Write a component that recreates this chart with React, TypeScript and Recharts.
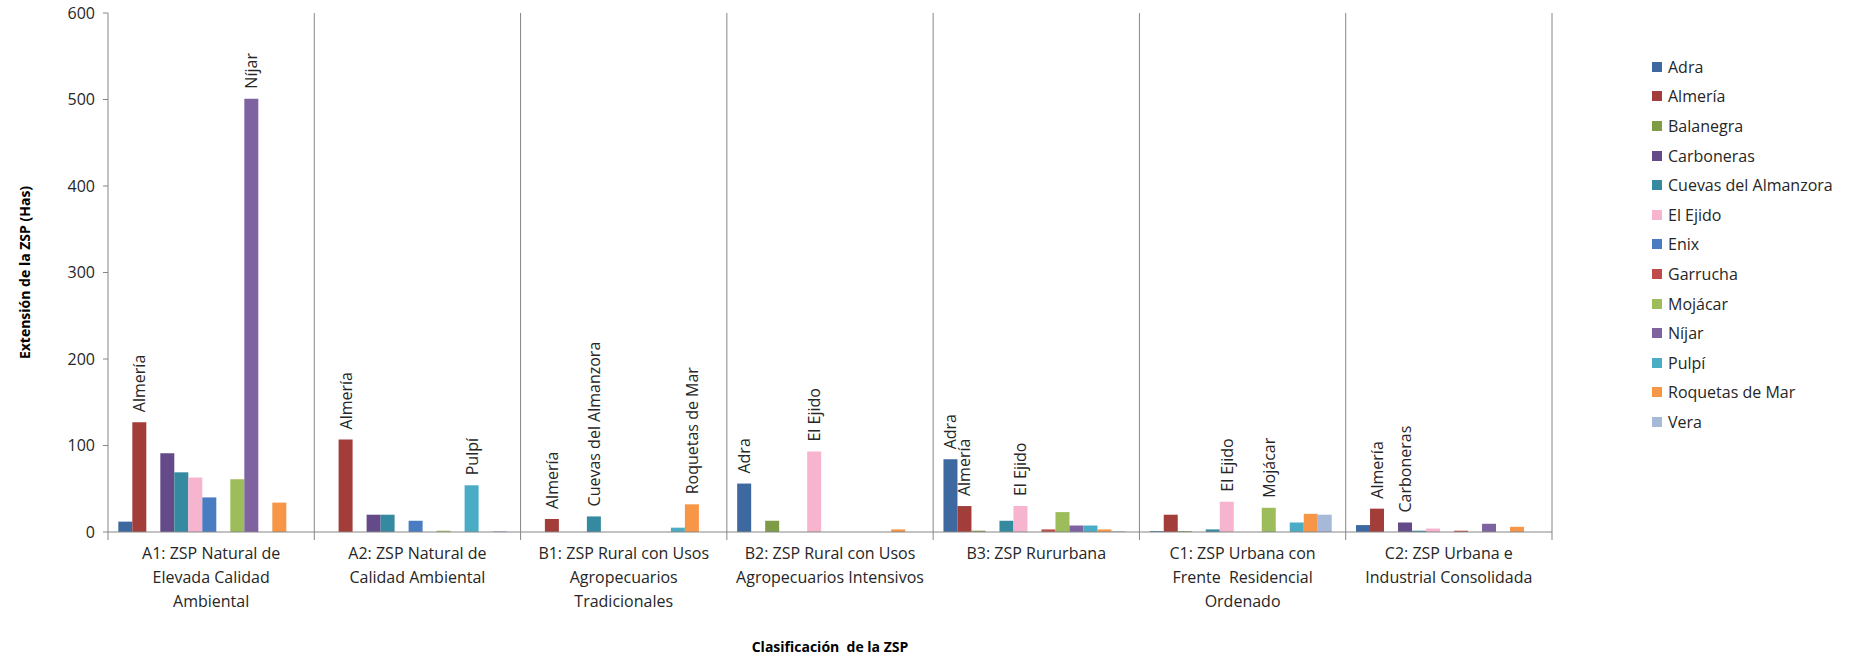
import React from 'react';
import { BarChart, Bar, XAxis, YAxis, CartesianGrid, Legend, LabelList } from 'recharts';

// ---------- data ----------
const categories = ['A1', 'A2', 'B1', 'B2', 'B3', 'C1', 'C2'];
const categoryLabels = [
  ['A1: ZSP Natural de', 'Elevada Calidad', 'Ambiental'],
  ['A2: ZSP Natural de', 'Calidad Ambiental'],
  ['B1: ZSP Rural con Usos', 'Agropecuarios', 'Tradicionales'],
  ['B2: ZSP Rural con Usos', 'Agropecuarios Intensivos'],
  ['B3: ZSP Rururbana'],
  ['C1: ZSP Urbana con', 'Frente  Residencial', 'Ordenado'],
  ['C2: ZSP Urbana e', 'Industrial Consolidada'],
];

const seriesNames = [
  'Adra', 'Almería', 'Balanegra', 'Carboneras', 'Cuevas del Almanzora', 'El Ejido',
  'Enix', 'Garrucha', 'Mojácar', 'Níjar', 'Pulpí', 'Roquetas de Mar', 'Vera',
];
const seriesColors = [
  '#3D68A0', '#A23D3A', '#7E9B45', '#654A8A', '#368A9F', '#F7B4CE',
  '#4A7CC1', '#BF4C4A', '#9DBD5A', '#7F63A1', '#4BACC6', '#F79646', '#A7B9D9',
];

// values per category A1, A2, B1, B2, B3, C1, C2
const adra = [12, 0, 0, 56, 84, 1, 8];
const almeria = [127, 107, 15, 0, 30, 20, 27];
const balanegra = [0, 0, 0, 13, 1.5, 1, 0];
const carboneras = [91, 20, 0, 0, 0, 0, 11];
const cuevas = [69, 20, 18, 0, 13, 3, 1.5];
const elEjido = [63, 0, 0, 93, 30, 35, 4];
const enix = [40, 13, 0, 0, 0, 0, 0];
const garrucha = [0, 0, 0, 0, 3, 0, 1.5];
const mojacar = [61, 1.5, 0, 0, 23, 28, 0];
const nijar = [501, 0, 0, 0, 7.5, 0, 9.5];
const pulpi = [0, 54, 5, 0, 7.5, 11, 0];
const roquetas = [34, 0, 32, 3, 3, 21, 6];
const vera = [0, 1, 0, 0, 1, 20, 0];

const seriesValues = [
  adra, almeria, balanegra, carboneras, cuevas, elEjido,
  enix, garrucha, mojacar, nijar, pulpi, roquetas, vera,
];

// bars that carry a rotated data label (category, series)
const labeledBars: [string, string][] = [
  ['A1', 'Almería'], ['A1', 'Níjar'],
  ['A2', 'Almería'], ['A2', 'Pulpí'],
  ['B1', 'Almería'], ['B1', 'Cuevas del Almanzora'], ['B1', 'Roquetas de Mar'],
  ['B2', 'Adra'], ['B2', 'El Ejido'],
  ['B3', 'Adra'], ['B3', 'Almería'], ['B3', 'El Ejido'],
  ['C1', 'El Ejido'], ['C1', 'Mojácar'],
  ['C2', 'Almería'], ['C2', 'Carboneras'],
];

const yTicks = [0, 100, 200, 300, 400, 500, 600];

const chartData = categories.map((cat, ci) => {
  const row: Record<string, string | number> = { cat };
  seriesNames.forEach((name, si) => {
    row[`s${si}`] = seriesValues[si][ci];
    row[`l${si}`] = labeledBars.some(([c, s]) => c === cat && s === name) ? name : '';
  });
  return row;
});

// ---------- layout ----------
const W = 1854;
const H = 660;
const MARGIN = { top: 13, right: 302, bottom: 10, left: 0 };
const Y_AXIS_W = 108;
const X_AXIS_H = 118;
const PLOT_LEFT = MARGIN.left + Y_AXIS_W;
const PLOT_RIGHT = W - MARGIN.right;
const PLOT_BOTTOM = H - MARGIN.bottom - X_AXIS_H;
const BAND = (PLOT_RIGHT - PLOT_LEFT) / categories.length;
const FONT = '"Open Sans", "Noto Sans", sans-serif';
const AXIS_COLOR = '#868686';
const TEXT_COLOR = '#262626';

const XTick = (props: any) => {
  const { x, payload } = props;
  const idx = categories.indexOf(payload.value);
  const lines = categoryLabels[idx] || [String(payload.value)];
  const left = x - BAND / 2;
  const right = x + BAND / 2;
  return (
    <g>
      <line x1={left} x2={left} y1={PLOT_BOTTOM} y2={PLOT_BOTTOM + 8} stroke={AXIS_COLOR} />
      {idx === categories.length - 1 && (
        <line x1={right} x2={right} y1={PLOT_BOTTOM} y2={PLOT_BOTTOM + 8} stroke={AXIS_COLOR} />
      )}
      <text
        x={x}
        y={PLOT_BOTTOM + 27}
        textAnchor="middle"
        fontSize={16}
        fontFamily={FONT}
        fill={TEXT_COLOR}
        style={{ whiteSpace: 'pre' }}
      >
        {lines.map((l, i) => (
          <tspan key={i} x={x} dy={i === 0 ? 0 : 24}>
            {l}
          </tspan>
        ))}
      </text>
    </g>
  );
};

const BarLabel = (props: any) => {
  const { x, y, width, value } = props;
  if (!value) return null;
  const cx = Number(x) + Number(width) / 2;
  const ty = Number(y) - 10;
  return (
    <text
      transform={`translate(${cx},${ty}) rotate(-90)`}
      textAnchor="start"
      dominantBaseline="central"
      fontSize={16}
      fontFamily={FONT}
      fill={TEXT_COLOR}
    >
      {value}
    </text>
  );
};

const YTitle = () => (
  <text
    transform={`translate(24,${(MARGIN.top + PLOT_BOTTOM) / 2}) rotate(-90)`}
    textAnchor="middle"
    dominantBaseline="central"
    fontSize={14}
    fontWeight="bold"
    fontFamily={FONT}
    fill="#000"
  >
    Extensión de la ZSP (Has)
  </text>
);

const XTitle = () => (
  <text
    x={(PLOT_LEFT + PLOT_RIGHT) / 2}
    y={652}
    textAnchor="middle"
    fontSize={14}
    fontWeight="bold"
    fontFamily={FONT}
    fill="#000"
    style={{ whiteSpace: 'pre' }}
  >
    Clasificación  de la ZSP
  </text>
);

const LegendContent = () => (
  <div style={{ fontFamily: FONT, fontSize: 16, color: TEXT_COLOR }}>
    {seriesNames.map((n, i) => (
      <div key={n} style={{ display: 'flex', alignItems: 'center', height: 29.6, whiteSpace: 'nowrap' }}>
        <span
          style={{ width: 10, height: 10, background: seriesColors[i], marginRight: 6, display: 'inline-block' }}
        />
        {n}
      </div>
    ))}
  </div>
);

export default function App() {
  return (
    <div style={{ position: 'absolute', left: 0, top: 0, width: W, height: H, background: '#fff' }}>
      <BarChart
        width={W}
        height={H}
        data={chartData}
        margin={MARGIN}
        barGap={0}
        barCategoryGap="5%"
      >
        <CartesianGrid
          horizontal={false}
          vertical
          stroke={AXIS_COLOR}
          verticalCoordinatesGenerator={({ offset }: any) =>
            categories.map((_, i) => offset.left + ((i + 1) * offset.width) / categories.length)
          }
        />
        <XAxis
          dataKey="cat"
          height={X_AXIS_H}
          tickLine={false}
          axisLine={{ stroke: AXIS_COLOR }}
          tick={<XTick />}
          interval={0}
          label={{ content: XTitle }}
        />
        <YAxis
          width={Y_AXIS_W}
          domain={[0, 600]}
          ticks={yTicks}
          interval={0}
          tickSize={5}
          tickMargin={8}
          tickLine={{ stroke: AXIS_COLOR }}
          axisLine={{ stroke: AXIS_COLOR }}
          tick={{ fontSize: 16, fill: TEXT_COLOR, fontFamily: FONT }}
          label={{ content: YTitle }}
        />
        <Legend
          layout="vertical"
          align="center"
          verticalAlign="middle"
          content={<LegendContent />}
          wrapperStyle={{ left: 1652, top: 52, width: 200 }}
        />
        {seriesNames.map((n, i) => (
          <Bar key={n} dataKey={`s${i}`} name={n} fill={seriesColors[i]} isAnimationActive={false}>
            <LabelList dataKey={`l${i}`} content={BarLabel} />
          </Bar>
        ))}
      </BarChart>
    </div>
  );
}
